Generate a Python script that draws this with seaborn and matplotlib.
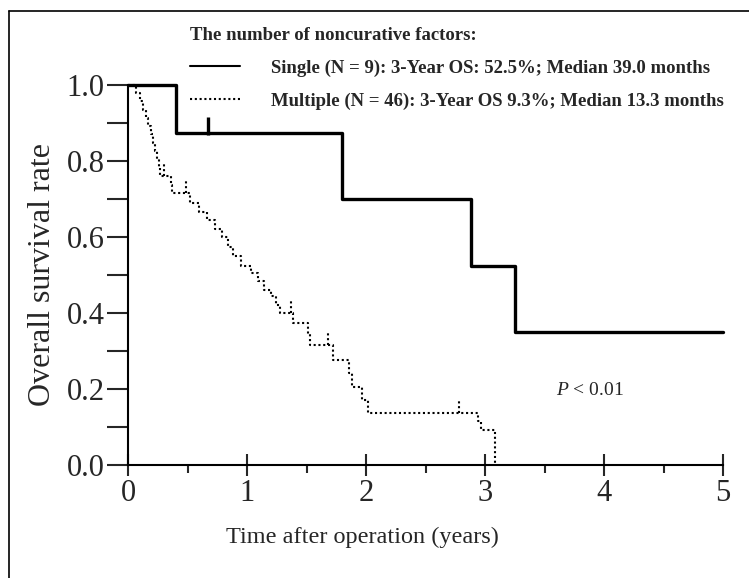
import matplotlib
matplotlib.use("Agg")
import matplotlib.pyplot as plt
import seaborn as sns
import pandas as pd
from matplotlib.lines import Line2D

# ---- data ----
single_times = [0.0, 0.40, 1.80, 2.88, 3.25, 5.0]
single_surv = [1.0, 0.875, 0.70, 0.525, 0.35, 0.35]
single_censor_t = [0.67]
single_censor_s = [0.875]

multi_times = [0.0, 0.07, 0.10, 0.13, 0.15, 0.17, 0.19, 0.21, 0.23, 0.24, 0.26, 0.27,
               0.36, 0.37, 0.52, 0.60, 0.66, 0.73, 0.79, 0.84, 0.88, 0.95, 1.03, 1.09,
               1.14, 1.20, 1.24, 1.28, 1.39, 1.51, 1.53, 1.72, 1.86, 1.88, 1.97, 2.02,
               2.94, 2.97, 3.08]
multi_surv = [1.0, 0.978, 0.957, 0.935, 0.913, 0.891, 0.870, 0.848, 0.826, 0.804, 0.783, 0.761,
              0.738, 0.716, 0.69, 0.667, 0.645, 0.62, 0.60, 0.575, 0.55, 0.525, 0.505, 0.485,
              0.46, 0.445, 0.42, 0.40, 0.373, 0.345, 0.316, 0.276, 0.241, 0.206, 0.172, 0.138,
              0.115, 0.092, 0.0]
multi_censor_t = [0.30, 0.49, 1.37, 1.68, 2.78]
multi_censor_s = [0.761, 0.716, 0.40, 0.316, 0.138]

labels = ["Single (N = 9): 3-Year OS: 52.5%; Median 39.0 months",
          "Multiple (N = 46): 3-Year OS 9.3%; Median 13.3 months"]
legend_title = "The number of noncurative factors:"
xticks = [0, 1, 2, 3, 4, 5]
yticks = [0.0, 0.2, 0.4, 0.6, 0.8, 1.0]

# ---- style ----
sns.set_theme(style="white")
plt.rcParams["font.family"] = ["Liberation Serif", "DejaVu Serif"]
plt.rcParams["mathtext.fontset"] = "custom"
plt.rcParams["mathtext.rm"] = "Liberation Serif"
plt.rcParams["mathtext.it"] = "Liberation Serif:italic"

fig = plt.figure(figsize=(7.49, 5.78), dpi=100)
ax = fig.add_axes([128 / 749, 1 - 465 / 578, (723 - 128) / 749, (465 - 85) / 578])

df_s = pd.DataFrame({"t": single_times, "s": single_surv})
df_m = pd.DataFrame({"t": multi_times, "s": multi_surv})

sns.lineplot(data=df_s, x="t", y="s", ax=ax, estimator=None, color="black",
             lw=2.4, drawstyle="steps-post", label=labels[0], clip_on=False)
sns.lineplot(data=df_m, x="t", y="s", ax=ax, estimator=None, color="black",
             lw=1.5, linestyle=(0, (1, 1.3)), drawstyle="steps-post", label=labels[1],
             clip_on=False)

# censor marks
ax.vlines(single_censor_t, [s - 0.007 for s in single_censor_s],
          [s + 0.042 for s in single_censor_s], colors="black", lw=2.4)
ax.vlines(multi_censor_t, multi_censor_s, [s + 0.035 for s in multi_censor_s],
          colors="black", lw=1.5, linestyles=[(0, (1, 1.3))])

ax.set_xlim(0, 5)
ax.set_ylim(0, 1.0)
ax.set_xticks(xticks)
ax.set_xticklabels([str(v) for v in xticks])
ax.set_yticks(yticks)
ax.set_yticklabels([f"{v:.1f}" for v in yticks])
ax.set_xticks([0.5, 1.5, 2.5, 3.5, 4.5], minor=True)
ax.set_yticks([0.1, 0.3, 0.5, 0.7, 0.9], minor=True)
ax.tick_params(axis="y", which="both", direction="out", length=15, width=1.5,
               labelsize=22, pad=2, left=True)
ax.tick_params(axis="x", which="major", direction="inout", length=16, width=1.5,
               labelsize=22, pad=2, bottom=True)
ax.tick_params(axis="x", which="minor", direction="out", length=6, width=1.5, bottom=True)

for side in ["top", "right"]:
    ax.spines[side].set_visible(False)
for side in ["left", "bottom"]:
    ax.spines[side].set_linewidth(1.5)
    ax.spines[side].set_color("black")

ax.set_xlabel("Time after operation (years)", fontsize=17.5)
ax.set_ylabel("Overall survival rate", fontsize=23)
ax.xaxis.set_label_coords((362 - 128) / 595, -0.163)
ax.yaxis.set_label_coords((57 - 128) / 595, 0.5)

ax.text(3.6, 0.197, r"$P$ < 0.01", fontsize=14, ha="left", va="center")

fs = 13.5
leg = ax.legend(loc="upper left", bbox_to_anchor=(182 / 749, 1 - 19 / 578),
                bbox_transform=fig.transFigure, frameon=False,
                title=legend_title, prop={"size": fs, "weight": "bold"},
                title_fontproperties={"size": fs, "weight": "bold"},
                handlelength=2.67, handletextpad=1.7, labelspacing=0.85,
                alignment="left", borderaxespad=0)
for h in leg.legend_handles:
    h.set_linewidth(1.5)

# outer frame lines (left and top)
fig.add_artist(Line2D([9 / 749, 9 / 749], [0, 1 - 11 / 578], color="black", lw=1.2,
                      transform=fig.transFigure))
fig.add_artist(Line2D([9 / 749, 1], [1 - 11 / 578, 1 - 11 / 578], color="black", lw=1.2,
                      transform=fig.transFigure))

fig.savefig("out.png", dpi=100)
